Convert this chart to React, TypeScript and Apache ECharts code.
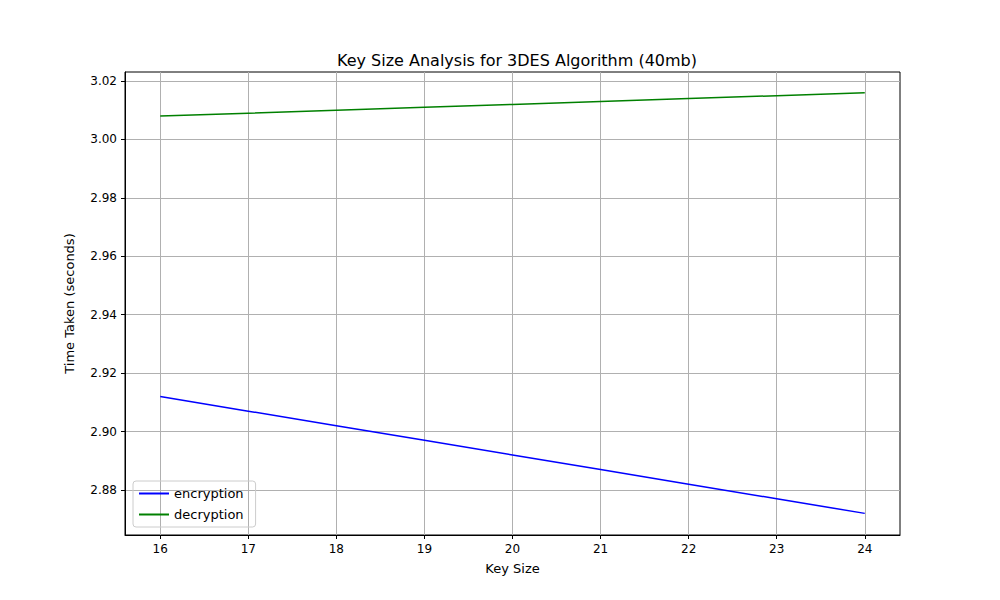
import { useEffect, useRef } from 'react'
import * as echarts from 'echarts'

const keySizes = [16, 17, 18, 19, 20, 21, 22, 23, 24]
const encryption = [2.912, 2.907, 2.902, 2.897, 2.892, 2.887, 2.882, 2.877, 2.872]
const decryption = [3.008, 3.009, 3.01, 3.011, 3.012, 3.013, 3.014, 3.015, 3.016]
const yTicks = [2.88, 2.9, 2.92, 2.94, 2.96, 2.98, 3.0, 3.02]

const font = 'DejaVu Sans'

const App = () => {
  const ref = useRef<HTMLDivElement>(null)

  useEffect(() => {
    if (!ref.current) return
    const chart = echarts.init(ref.current, undefined, { renderer: 'svg' })
    const axisCommon = {
      axisLine: { show: true, onZero: false, lineStyle: { color: '#000', width: 1 } },
      axisTick: { show: true, length: 4, inside: false, lineStyle: { color: '#000' } },
      splitLine: { show: true, lineStyle: { color: '#b0b0b0', width: 1 } },
      nameLocation: 'middle' as const,
      nameTextStyle: { color: '#000', fontSize: 13, fontFamily: font },
    }
    chart.setOption({
      animation: false,
      textStyle: { fontFamily: font },
      title: {
        text: 'Key Size Analysis for 3DES Algorithm (40mb)',
        left: 512,
        top: 47,
        textAlign: 'center',
        textStyle: { fontSize: 16, fontWeight: 'normal', color: '#000', fontFamily: font },
      },
      grid: { left: 125, right: 100, top: 72, bottom: 65, show: true, borderColor: '#000', borderWidth: 1 },
      legend: {
        orient: 'vertical',
        left: 133,
        top: 481,
        itemWidth: 30,
        itemHeight: 2,
        itemGap: 8,
        padding: [6, 12, 6, 6],
        borderColor: '#ccc',
        borderWidth: 1,
        borderRadius: 3,
        textStyle: { fontSize: 13, color: '#000', fontFamily: font },
        data: [
          { name: 'encryption', icon: 'rect' },
          { name: 'decryption', icon: 'rect' },
        ],
      },
      xAxis: {
        ...axisCommon,
        type: 'value',
        name: 'Key Size',
        nameGap: 27,
        min: 15.6,
        max: 24.4,
        axisTick: { ...axisCommon.axisTick, customValues: keySizes },
        axisLabel: { customValues: keySizes, color: '#000', fontSize: 12, fontFamily: font, margin: 8 },
      },
      yAxis: {
        ...axisCommon,
        type: 'value',
        name: 'Time Taken (seconds)',
        nameGap: 49,
        min: 2.8646,
        max: 3.0231,
        axisTick: { ...axisCommon.axisTick, customValues: yTicks },
        axisLabel: {
          customValues: yTicks,
          color: '#000',
          fontSize: 12,
          fontFamily: font,
          formatter: (v: number) => v.toFixed(2),
        },
      },
      series: [
        {
          name: 'encryption',
          type: 'line',
          data: keySizes.map((k, i) => [k, encryption[i]]),
          showSymbol: false,
          lineStyle: { color: '#0000ff', width: 1.5 },
          itemStyle: { color: '#0000ff' },
        },
        {
          name: 'decryption',
          type: 'line',
          data: keySizes.map((k, i) => [k, decryption[i]]),
          showSymbol: false,
          lineStyle: { color: '#008000', width: 1.5 },
          itemStyle: { color: '#008000' },
        },
      ],
    })
    return () => chart.dispose()
  }, [])

  return <div ref={ref} style={{ width: 1000, height: 600, margin: -8 }} />
}

export default App
